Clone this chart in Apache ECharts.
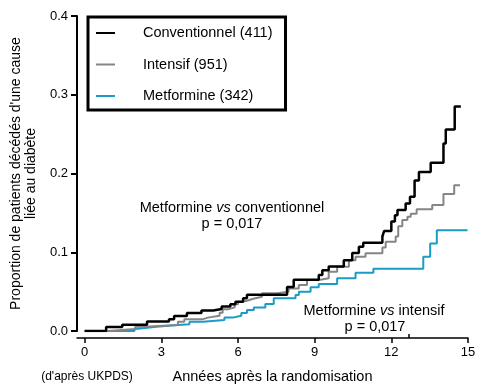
<!DOCTYPE html>
<html>
<head>
<meta charset="utf-8">
<script src="https://cdn.jsdelivr.net/npm/echarts@6/dist/echarts.min.js"></script>
<style>
html,body{margin:0;padding:0;background:#fff;}
#chart{width:486px;height:389px;}
</style>
</head>
<body>
<div id="chart"></div>
<script>
// ---- data (Kaplan-Meier steps: time in years, proportion) ----
const seriesNames = ['Conventionnel (411)', 'Intensif (951)', 'Metformine (342)'];

const tConv = [0, 0.84, 1.47, 2.44, 3.3, 3.5, 4.0, 4.57, 5.03, 5.36, 5.7, 5.9, 6.2, 6.35, 7.92, 8.18, 9.16, 9.3, 9.55, 10.14, 10.47, 10.73, 10.9, 11.65, 11.72, 12.0, 12.14, 12.24, 12.56, 12.73, 12.91, 13.08, 13.54, 14.04, 14.13, 14.48, 14.72];
const pConv = [0, 0.005, 0.008, 0.012, 0.015, 0.019, 0.023, 0.026, 0.028, 0.031, 0.034, 0.037, 0.0415, 0.046, 0.056, 0.065, 0.071, 0.077, 0.082, 0.09, 0.099, 0.107, 0.112, 0.12, 0.127, 0.139, 0.147, 0.1535, 0.162, 0.1705, 0.191, 0.202, 0.2136, 0.238, 0.256, 0.285, 0.285];

const tInt = [0, 0.9, 1.98, 2.34, 3.65, 3.9, 4.6, 4.82, 5.28, 5.4, 5.6, 5.87, 6.0, 6.13, 6.35, 6.6, 6.94, 7.53, 7.98, 8.38, 8.7, 9.16, 9.55, 9.88, 10.34, 10.6, 10.99, 11.65, 11.78, 12.17, 12.27, 12.43, 12.63, 12.76, 12.99, 13.6, 14.04, 14.46, 14.69];
const pInt = [0, 0.0025, 0.0055, 0.0076, 0.0118, 0.0148, 0.017, 0.0194, 0.0232, 0.0275, 0.030, 0.034, 0.037, 0.0385, 0.041, 0.0435, 0.0478, 0.05, 0.054, 0.0584, 0.0647, 0.067, 0.0753, 0.0816, 0.09, 0.0943, 0.0986, 0.106, 0.1134, 0.12, 0.133, 0.141, 0.145, 0.149, 0.1545, 0.16, 0.174, 0.185, 0.185];

const tMet = [0, 1.95, 2.08, 2.8, 3.65, 4.1, 4.63, 5.47, 5.8, 6.13, 6.35, 6.62, 7.07, 7.4, 8.25, 8.38, 8.84, 9.16, 9.88, 10.6, 11.3, 13.25, 13.52, 13.78, 14.98];
const pMet = [0, 0.003, 0.0055, 0.0076, 0.0085, 0.0118, 0.014, 0.017, 0.0194, 0.023, 0.0266, 0.030, 0.0343, 0.0415, 0.0457, 0.05, 0.0555, 0.0596, 0.067, 0.074, 0.079, 0.0943, 0.111, 0.128, 0.128];

const xTicks = [0, 3, 6, 9, 12, 15];
const extraTick = [12.7];
const yTitle = "Proportion de patients décédés d'une cause\nliée au diabète";
const xTitle = 'Années après la randomisation';
const sourceNote = "(d'après UKPDS)";

const colors = ['#000000', '#858585', '#1a9cc6'];
const widths = [2.5, 2, 2];

function pairs(t, p) { return t.map((v, i) => [v, p[i]]); }
const allData = [pairs(tConv, pConv), pairs(tInt, pInt), pairs(tMet, pMet)];

const FONT = '"Liberation Sans", Arial, Helvetica, sans-serif';
const chart = echarts.init(document.getElementById('chart'), null, {renderer: 'canvas'});

const option = {
  animation: false,
  backgroundColor: '#fff',
  textStyle: {fontFamily: FONT, color: '#000'},
  grid: {left: 77, right: 18, top: 16, bottom: 58, containLabel: false},
  legend: {
    orient: 'vertical',
    left: 88, top: 17,
    padding: [8, 13, 6, 8],
    borderColor: '#000', borderWidth: 3,
    itemGap: 15.5,
    itemWidth: 19, itemHeight: 2,
    icon: 'rect',
    textStyle: {fontFamily: FONT, fontSize: 14.5, color: '#000', lineHeight: 16, padding: [0, 0, 0, 23]},
    data: seriesNames
  },
  xAxis: [{
    type: 'value', min: -0.3, max: 15, offset: 7,
    axisLine: {show: true, onZero: false, lineStyle: {color: '#000', width: 1.5}},
    axisTick: {show: true, length: 5, lineStyle: {color: '#000', width: 1.5}, customValues: xTicks},
    axisLabel: {fontFamily: FONT, fontSize: 13, color: '#000', margin: 8, customValues: xTicks},
    splitLine: {show: false},
    name: xTitle, nameLocation: 'middle', nameGap: 31,
    nameTextStyle: {fontFamily: FONT, fontSize: 14.5, color: '#000'}
  }, {
    type: 'value', min: -0.3, max: 15, offset: 7, position: 'bottom',
    axisLine: {show: false, onZero: false},
    axisTick: {show: true, inside: true, length: 4, lineStyle: {color: '#000', width: 1.5}, customValues: extraTick},
    axisLabel: {show: false},
    splitLine: {show: false}
  }],
  yAxis: {
    type: 'value', min: 0, max: 0.4, interval: 0.1,
    axisLine: {show: true, onZero: false, lineStyle: {color: '#000', width: 2}},
    axisTick: {show: true, length: 6, lineStyle: {color: '#000', width: 2}},
    axisLabel: {fontFamily: FONT, fontSize: 13, color: '#000', margin: 9, formatter: v => v.toFixed(1)},
    splitLine: {show: false},
    name: yTitle, nameLocation: 'middle', nameGap: 38,
    nameTextStyle: {fontFamily: FONT, fontSize: 14, color: '#000', lineHeight: 15, align: 'center'}
  },
  series: seriesNames.map((n, i) => ({
    name: n, type: 'line', step: 'end', xAxisIndex: 0,
    data: allData[i], showSymbol: false, symbol: 'none',
    lineStyle: {color: colors[i], width: widths[i]},
    itemStyle: {color: colors[i]},
    z: 3 - i
  })),
  graphic: [
    {type: 'text', x: 232, y: 208, style: {
      text: '{a|Metformine }{b|vs}{a| conventionnel}', align: 'center', verticalAlign: 'middle',
      rich: {a: {fontFamily: FONT, fontSize: 14.5, fill: '#000'}, b: {fontFamily: FONT, fontSize: 14.5, fontStyle: 'italic', fill: '#000'}}
    }},
    {type: 'text', x: 232, y: 224, style: {text: 'p = 0,017', align: 'center', verticalAlign: 'middle', fontFamily: FONT, fontSize: 14.5, fill: '#000'}},
    {type: 'text', x: 374, y: 311, style: {
      text: '{a|Metformine }{b|vs}{a| intensif}', align: 'center', verticalAlign: 'middle',
      rich: {a: {fontFamily: FONT, fontSize: 14.5, fill: '#000'}, b: {fontFamily: FONT, fontSize: 14.5, fontStyle: 'italic', fill: '#000'}}
    }},
    {type: 'text', x: 375, y: 327, style: {text: 'p = 0,017', align: 'center', verticalAlign: 'middle', fontFamily: FONT, fontSize: 14.5, fill: '#000'}},
    {type: 'text', x: 87, y: 377, style: {text: sourceNote, align: 'center', verticalAlign: 'middle', fontFamily: FONT, fontSize: 12, fill: '#000'}}
  ]
};
chart.setOption(option);
</script>
</body>
</html>
